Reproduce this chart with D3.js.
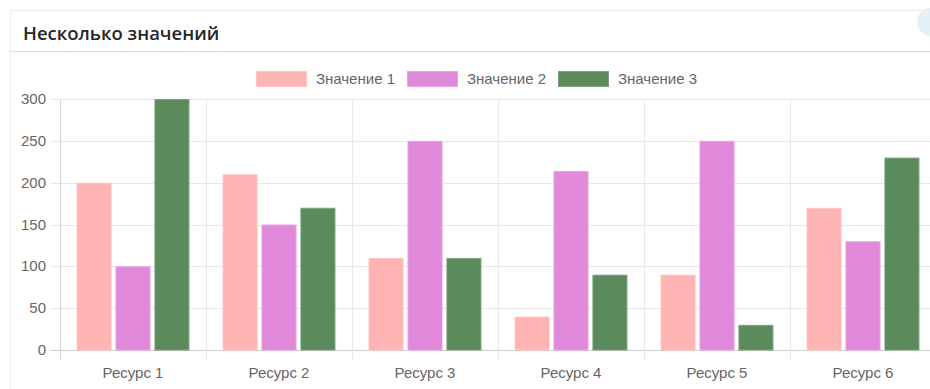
<!DOCTYPE html>
<html><head><meta charset="utf-8">
<script src="https://cdn.jsdelivr.net/npm/d3@7/dist/d3.min.js"></script>
<style>
html,body{margin:0;padding:0;background:#fff;overflow:hidden;}
svg{display:block;}
</style></head>
<body>
<svg id="c" width="930" height="389"></svg>
<script>
const title = "Несколько значений";
const categories = ["Ресурс 1","Ресурс 2","Ресурс 3","Ресурс 4","Ресурс 5","Ресурс 6"];
const seriesNames = ["Значение 1","Значение 2","Значение 3"];
const values1 = [200, 210, 110, 40, 90, 170];
const values2 = [100, 150, 250, 214, 250, 130];
const values3 = [300, 170, 110, 90, 30, 230];
const yTicks = [0, 50, 100, 150, 200, 250, 300];
const colors = ["#ffb4b4", "#e089da", "#5b8a5d"];
const borders = ["#ffc4c4", "#e8a2e3", "#7aa07c"];

const seriesValues = [values1, values2, values3];
const svg = d3.select("#c");
const font = "'Liberation Sans', Arial, sans-serif";

// card
svg.append("rect").attr("x",10.5).attr("y",10.5).attr("width",940).attr("height",400)
  .attr("fill","#fff").attr("stroke","#ececec");
svg.append("line").attr("x1",10).attr("x2",930).attr("y1",51.5).attr("y2",51.5).attr("stroke","#dedede");
svg.append("circle").attr("cx",931).attr("cy",22).attr("r",14).attr("fill","#e4f2f6");
svg.append("text").attr("x",23).attr("y",40).text(title)
  .attr("font-family","'Open Sans', sans-serif").attr("font-size",18.5).attr("font-weight",600).attr("fill","#262626");

// scales
const x = d3.scaleBand().domain(categories).range([60, 936]).padding(0);
const bw = x.bandwidth();
const xs = d3.scaleBand().domain(seriesNames).range([bw*0.1, bw*0.9]).paddingInner(0.1).paddingOuter(0.05);
const y = d3.scaleLinear().domain([0, 300]).range([350, 99]);

const g = svg.append("g");
// horizontal grid
g.selectAll(".hg").data(yTicks).join("line")
  .attr("x1",50).attr("x2",936)
  .attr("y1",d=>Math.round(y(d))+0.5).attr("y2",d=>Math.round(y(d))+0.5)
  .attr("stroke",d=>d===0?"#cfcfcf":"#e8e8e8");
// vertical grid
const bounds = categories.map(c=>x(c)).concat([x(categories[categories.length-1])+bw]);
g.selectAll(".vg").data(bounds).join("line")
  .attr("x1",d=>Math.round(d)+0.5).attr("x2",d=>Math.round(d)+0.5)
  .attr("y1",99).attr("y2",360)
  .attr("stroke",(d,i)=>i===0?"#d6d6d6":"#e8e8e8");

// y labels
g.selectAll(".yl").data(yTicks).join("text")
  .attr("x",46).attr("y",d=>y(d)+5).attr("text-anchor","end")
  .attr("font-family",font).attr("font-size",15).attr("fill","#666").text(d=>d);
// x labels
g.selectAll(".xl").data(categories).join("text")
  .attr("x",d=>x(d)+bw/2).attr("y",378).attr("text-anchor","middle")
  .attr("font-family",font).attr("font-size",15).attr("fill","#666").text(d=>d);

// bars
seriesNames.forEach((s, si) => {
  g.selectAll(".b"+si).data(categories).join("rect")
    .attr("x",d=>x(d)+xs(s)+0.5)
    .attr("width",xs.bandwidth()-1)
    .attr("y",(d,i)=>y(seriesValues[si][i])+0.5)
    .attr("height",(d,i)=>y(0)-y(seriesValues[si][i])-0.5)
    .attr("fill",colors[si]).attr("stroke",borders[si]).attr("stroke-width",1);
});

// legend
const lg = svg.append("g");
const boxW = 50, boxH = 15, gapBT = 10, gapItem = 12;
const texts = seriesNames.map(s=>{
  const t = lg.append("text").attr("font-family",font).attr("font-size",15).attr("fill","#666").text(s);
  return t;
});
const widths = texts.map(t=>t.node().getComputedTextLength());
const total = d3.sum(widths) + seriesNames.length*(boxW+gapBT) + (seriesNames.length-1)*gapItem;
let cx = 476.5 - total/2;
seriesNames.forEach((s,i)=>{
  lg.append("rect").attr("x",cx+0.5).attr("y",71.5).attr("width",boxW).attr("height",boxH)
    .attr("fill",colors[i]).attr("stroke",borders[i]);
  texts[i].attr("x",cx+boxW+gapBT).attr("y",84);
  cx += boxW+gapBT+widths[i]+gapItem;
});
</script>
</body></html>
